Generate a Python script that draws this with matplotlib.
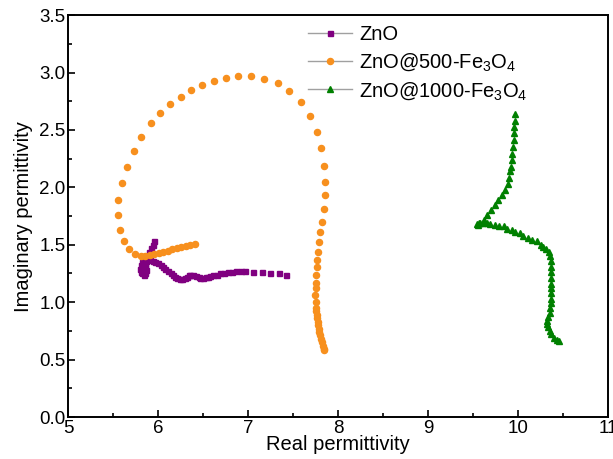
import numpy as np
import matplotlib
matplotlib.use('Agg')
import matplotlib.pyplot as plt
from matplotlib.lines import Line2D
from matplotlib.ticker import MultipleLocator

plt.rcParams['font.family'] = ['Liberation Sans', 'DejaVu Sans']
plt.rcParams['mathtext.fontset'] = 'custom'
plt.rcParams['mathtext.rm'] = 'Liberation Sans'
plt.rcParams['mathtext.it'] = 'Liberation Sans:italic'

# ZnO
zno_x = [7.42, 7.34, 7.24, 7.15, 7.06, 6.97, 6.92, 6.87, 6.82, 6.78, 6.73, 6.69, 6.65,
         6.61, 6.58, 6.56, 6.53, 6.50, 6.47, 6.45, 6.42, 6.39, 6.36, 6.34, 6.32, 6.30,
         6.27, 6.24, 6.21, 6.19, 6.17, 6.14, 6.11, 6.08, 6.06, 6.03, 6.00, 5.97, 5.94,
         5.91, 5.89, 5.87, 5.85, 5.83, 5.82, 5.82, 5.84, 5.86, 5.87, 5.86, 5.84, 5.82,
         5.81, 5.80, 5.81, 5.84, 5.87, 5.90, 5.92, 5.94, 5.96]
zno_y = [1.24, 1.25, 1.25, 1.26, 1.26, 1.27, 1.27, 1.27, 1.26, 1.26, 1.25, 1.25, 1.24,
         1.24, 1.23, 1.22, 1.22, 1.21, 1.21, 1.22, 1.23, 1.24, 1.24, 1.24, 1.22, 1.21,
         1.20, 1.20, 1.21, 1.22, 1.24, 1.25, 1.27, 1.29, 1.31, 1.32, 1.34, 1.35, 1.36,
         1.37, 1.38, 1.36, 1.33, 1.30, 1.27, 1.25, 1.24, 1.25, 1.28, 1.31, 1.33, 1.35,
         1.32, 1.29, 1.26, 1.36, 1.40, 1.44, 1.47, 1.50, 1.53]

# ZnO@500-Fe3O4
z500_x = [6.41, 6.36, 6.31, 6.26, 6.21, 6.16, 6.11, 6.06, 6.01, 5.96, 5.91, 5.86,
          5.81, 5.74, 5.68, 5.62, 5.58, 5.56, 5.56, 5.60, 5.66, 5.73, 5.81, 5.92,
          6.02, 6.13, 6.25, 6.37, 6.49, 6.62, 6.75, 6.89, 7.03, 7.18, 7.33, 7.46,
          7.59, 7.69, 7.77, 7.81, 7.84, 7.85, 7.85, 7.84, 7.82, 7.80, 7.79, 7.78,
          7.77, 7.77, 7.76, 7.75, 7.75, 7.74, 7.75, 7.76, 7.76, 7.765, 7.77, 7.775,
          7.78, 7.785, 7.79, 7.80, 7.81, 7.82, 7.83, 7.84, 7.845]
z500_y = [1.51, 1.50, 1.49, 1.48, 1.47, 1.46, 1.45, 1.44, 1.43, 1.42, 1.41, 1.40,
          1.40, 1.42, 1.46, 1.53, 1.63, 1.76, 1.89, 2.04, 2.18, 2.32, 2.44, 2.56,
          2.65, 2.73, 2.79, 2.85, 2.89, 2.93, 2.95, 2.97, 2.97, 2.94, 2.91, 2.84,
          2.74, 2.62, 2.48, 2.34, 2.19, 2.05, 1.93, 1.81, 1.70, 1.61, 1.52, 1.44,
          1.37, 1.31, 1.24, 1.17, 1.12, 1.06, 1.00, 0.95, 0.92, 0.89, 0.86, 0.83,
          0.80, 0.77, 0.74, 0.71, 0.68, 0.65, 0.62, 0.59, 0.58]

# ZnO@1000-Fe3O4
z1000_x = [9.97, 9.967, 9.96, 9.955, 9.95, 9.94, 9.935, 9.93, 9.92, 9.91, 9.90, 9.89,
           9.86, 9.82, 9.78, 9.74, 9.70, 9.66, 9.62, 9.58, 9.55, 9.54, 9.57, 9.61,
           9.65, 9.69, 9.74, 9.79, 9.84, 9.88, 9.93, 9.97, 10.02, 10.06, 10.11, 10.16,
           10.21, 10.25, 10.28, 10.31, 10.34, 10.36, 10.37, 10.37, 10.37, 10.37, 10.37,
           10.37, 10.37, 10.37, 10.37, 10.36, 10.35, 10.33, 10.32, 10.32, 10.33, 10.35,
           10.37, 10.40, 10.43, 10.45]
z1000_y = [2.64, 2.58, 2.53, 2.47, 2.41, 2.35, 2.29, 2.24, 2.18, 2.14, 2.08, 2.03,
           1.98, 1.93, 1.89, 1.85, 1.80, 1.76, 1.72, 1.69, 1.67, 1.68, 1.69, 1.69,
           1.69, 1.68, 1.67, 1.66, 1.66, 1.64, 1.63, 1.61, 1.60, 1.58, 1.56, 1.54,
           1.53, 1.50, 1.48, 1.46, 1.44, 1.40, 1.36, 1.31, 1.26, 1.21, 1.16, 1.12,
           1.08, 1.03, 0.99, 0.95, 0.91, 0.87, 0.84, 0.81, 0.78, 0.75, 0.72, 0.69,
           0.67, 0.66]

c_zno = '#800080'
c_500 = '#f7901e'
c_1000 = '#008000'

fig = plt.figure(figsize=(6.13, 4.59), dpi=100)
ax = fig.add_axes([0.111, 0.0915, 0.881, 0.8755])

ax.plot(zno_x, zno_y, ls='none', marker='s', ms=3.6, color=c_zno, mec=c_zno)
ax.plot(z500_x, z500_y, ls='none', marker='o', ms=4.4, color=c_500, mec=c_500)
ax.plot(z1000_x, z1000_y, ls='none', marker='^', ms=4.6, color=c_1000, mec=c_1000)

ax.set_xlim(5, 11)
ax.set_ylim(0, 3.5)
ax.xaxis.set_major_locator(MultipleLocator(1))
ax.xaxis.set_minor_locator(MultipleLocator(0.5))
ax.yaxis.set_major_locator(MultipleLocator(0.5))
ax.yaxis.set_minor_locator(MultipleLocator(0.25))
ax.yaxis.set_major_formatter(matplotlib.ticker.FormatStrFormatter('%.1f'))
ax.tick_params(which='both', direction='in', top=False, right=False, labelsize=13.5, pad=2)
ax.tick_params(which='major', length=5, width=1.2)
ax.tick_params(which='minor', length=3, width=1.2)
for s in ax.spines.values():
    s.set_linewidth(1.4)

ax.set_xlabel('Real permittivity', fontsize=14.5, labelpad=-1)
ax.set_ylabel('Imaginary permittivity', fontsize=14.5, labelpad=4)

handles = [
    Line2D([], [], color='#a0a0a0', lw=1, marker='s', ms=3.6, mfc=c_zno, mec=c_zno),
    Line2D([], [], color='#a0a0a0', lw=1, marker='o', ms=4.4, mfc=c_500, mec=c_500),
    Line2D([], [], color='#a0a0a0', lw=1, marker='^', ms=4.6, mfc=c_1000, mec=c_1000),
]
labels = ['ZnO', 'ZnO@500-Fe$_3$O$_4$', 'ZnO@1000-Fe$_3$O$_4$']
ax.legend(handles, labels, loc='upper left', bbox_to_anchor=(0.4296, 0.995), frameon=False,
          fontsize=14.5, handlelength=2.2, handletextpad=0.35, labelspacing=0.35,
          borderaxespad=0.0)

fig.savefig('out.png', dpi=100)
